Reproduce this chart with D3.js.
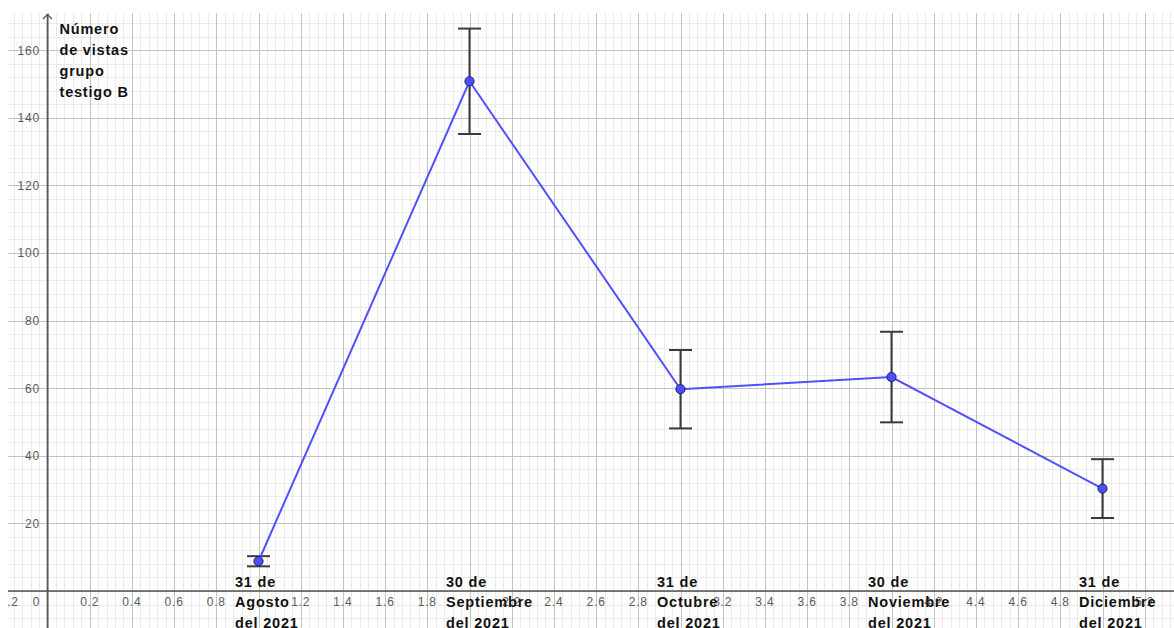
<!DOCTYPE html>
<html>
<head>
<meta charset="utf-8">
<script src="https://cdn.jsdelivr.net/npm/d3@7"></script>
<style>
  html, body { margin: 0; padding: 0; background: #fff; }
  svg { display: block; }
  text { font-family: "Liberation Sans", Arial, sans-serif; }
</style>
</head>
<body>
<svg id="chart" width="1174" height="628"></svg>
<script>
// ---- data ----
const categoryX = [1, 2, 3, 4, 5];
const categoryLabels = [
  ["31 de", "Agosto", "del 2021"],
  ["30 de", "Septiembre", "del 2021"],
  ["31 de", "Octubre", "del 2021"],
  ["30 de", "Noviembre", "del 2021"],
  ["31 de", "Diciembre", "del 2021"]
];
const seriesValues = [8.8, 150.8, 59.7, 63.3, 30.3];
const seriesErrors = [1.5, 15.6, 11.6, 13.4, 8.7];
const xTickValues = [-0.2, 0.2, 0.4, 0.6, 0.8, 1.2, 1.4, 1.6, 1.8, 2.2, 2.4, 2.6, 2.8,
                     3.2, 3.4, 3.6, 3.8, 4.2, 4.4, 4.6, 4.8, 5.2];
const yTickValues = [20, 40, 60, 80, 100, 120, 140, 160];
const yAxisTitle = ["Número", "de vistas", "grupo", "testigo B"];

// ---- layout ----
const W = 1174, H = 628;
const plotL = 8, plotT = 13;
const svg = d3.select("#chart");
const x = d3.scaleLinear().domain([0, 5]).range([47.5, 1102.5]);
const y = d3.scaleLinear().domain([0, 160]).range([591, 50.2]);

svg.append("defs").append("clipPath").attr("id", "plotclip")
  .append("rect").attr("x", plotL).attr("y", plotT).attr("width", W - plotL).attr("height", H - plotT);

const g = svg.append("g").attr("clip-path", "url(#plotclip)");

// grid
const xMin = x.invert(plotL), xMax = x.invert(W);
const yMin = y.invert(H), yMax = y.invert(plotT);
const minorX = d3.range(Math.ceil(xMin / 0.04), Math.floor(xMax / 0.04) + 1).map(i => i * 0.04);
const minorY = d3.range(Math.ceil(yMin / 4), Math.floor(yMax / 4) + 1).map(i => i * 4);
const majorX = d3.range(Math.ceil(xMin / 0.2), Math.floor(xMax / 0.2) + 1).map(i => i * 0.2);
const majorY = d3.range(Math.ceil(yMin / 20), Math.floor(yMax / 20) + 1).map(i => i * 20);

g.append("g").selectAll("line").data(minorX).join("line")
  .attr("x1", d => Math.round(x(d)) + 0.5).attr("x2", d => Math.round(x(d)) + 0.5)
  .attr("y1", plotT).attr("y2", H).attr("stroke", "#ebebeb").attr("stroke-width", 1);
g.append("g").selectAll("line").data(minorY).join("line")
  .attr("y1", d => Math.round(y(d)) + 0.5).attr("y2", d => Math.round(y(d)) + 0.5)
  .attr("x1", plotL).attr("x2", W).attr("stroke", "#ebebeb").attr("stroke-width", 1);
g.append("g").selectAll("line").data(majorX).join("line")
  .attr("x1", d => Math.round(x(d)) + 0.5).attr("x2", d => Math.round(x(d)) + 0.5)
  .attr("y1", plotT).attr("y2", H).attr("stroke", "#c3c3c3").attr("stroke-width", 1);
g.append("g").selectAll("line").data(majorY).join("line")
  .attr("y1", d => Math.round(y(d)) + 0.5).attr("y2", d => Math.round(y(d)) + 0.5)
  .attr("x1", plotL).attr("x2", W).attr("stroke", "#c3c3c3").attr("stroke-width", 1);

// axes
const axisColor = "#555";
g.append("line").attr("x1", plotL).attr("x2", W).attr("y1", y(0)).attr("y2", y(0))
  .attr("stroke", axisColor).attr("stroke-width", 1.6);
g.append("line").attr("x1", x(0)).attr("x2", x(0)).attr("y1", plotT + 1).attr("y2", H)
  .attr("stroke", axisColor).attr("stroke-width", 1.6);
g.append("path")
  .attr("d", `M${x(0) - 4.5},${plotT + 6} L${x(0)},${plotT + 1.5} L${x(0) + 4.5},${plotT + 6}`)
  .attr("fill", "none").attr("stroke", axisColor).attr("stroke-width", 1.3);

// tick labels
const tickColor = "#5a5a5a";
const fmt = d => d3.format(".1f")(d);
g.append("g").selectAll("text").data(xTickValues).join("text")
  .attr("x", d => x(d)).attr("y", y(0) + 15)
  .attr("text-anchor", "middle").attr("font-size", 12).attr("letter-spacing", 0.8).attr("fill", tickColor)
  .text(d => fmt(d));
g.append("text").attr("x", x(0) - 11.5).attr("y", y(0) + 15)
  .attr("text-anchor", "middle").attr("font-size", 12).attr("fill", tickColor).text("0");
g.append("g").selectAll("text").data(yTickValues).join("text")
  .attr("x", 40).attr("y", d => y(d) + 4.3)
  .attr("text-anchor", "end").attr("font-size", 12).attr("letter-spacing", 0.8).attr("fill", tickColor)
  .text(d => d);

// y axis title
g.append("g").selectAll("text").data(yAxisTitle).join("text")
  .attr("x", 59.5).attr("y", (d, i) => 34 + i * 21)
  .attr("font-size", 14.5).attr("letter-spacing", 0.8).attr("font-weight", "bold").attr("fill", "#111")
  .text(d => d);

// category labels
categoryX.forEach((cx, i) => {
  categoryLabels[i].forEach((line, j) => {
    g.append("text").attr("x", x(cx) - 23.5).attr("y", 587 + j * 20.3)
      .attr("font-size", 14.5).attr("letter-spacing", 0.8).attr("font-weight", "bold").attr("fill", "#111")
      .text(line);
  });
});

// error bars
const pts = categoryX.map((cx, i) => ({ x: cx, v: seriesValues[i], e: seriesErrors[i] }));
const eb = g.append("g").attr("stroke", "#3a3a3a").attr("stroke-width", 2);
pts.forEach(p => {
  eb.append("line").attr("x1", x(p.x)).attr("x2", x(p.x)).attr("y1", y(p.v + p.e)).attr("y2", y(p.v - p.e));
  eb.append("line").attr("x1", x(p.x) - 11.5).attr("x2", x(p.x) + 11.5).attr("y1", y(p.v + p.e)).attr("y2", y(p.v + p.e));
  eb.append("line").attr("x1", x(p.x) - 11.5).attr("x2", x(p.x) + 11.5).attr("y1", y(p.v - p.e)).attr("y2", y(p.v - p.e));
});

// line
g.append("path").datum(pts)
  .attr("d", d3.line().x(d => x(d.x)).y(d => y(d.v)))
  .attr("fill", "none").attr("stroke", "#5050ff").attr("stroke-width", 2);

// points
g.append("g").selectAll("circle").data(pts).join("circle")
  .attr("cx", d => x(d.x)).attr("cy", d => y(d.v)).attr("r", 4.6)
  .attr("fill", "#4d4dff").attr("stroke", "#1e1e6e").attr("stroke-width", 1);
</script>
</body>
</html>
